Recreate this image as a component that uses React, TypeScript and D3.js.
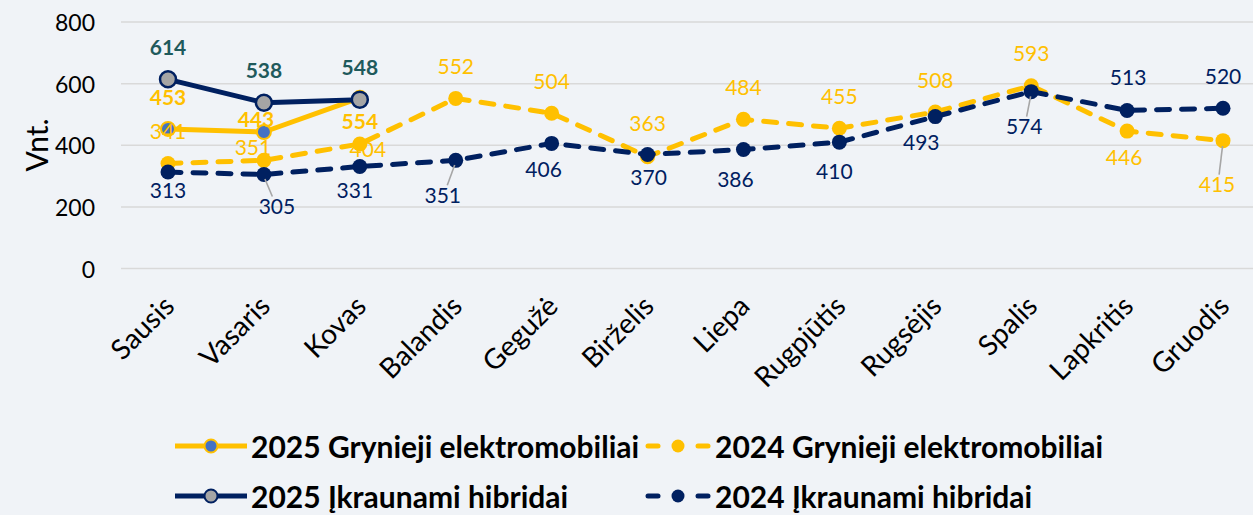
import React from "react";
import * as d3 from "d3";

const months = ["Sausis", "Vasaris", "Kovas", "Balandis", "Gegužė", "Birželis", "Liepa", "Rugpjūtis", "Rugsėjis", "Spalis", "Lapkritis", "Gruodis"];
const yTicks = [0, 200, 400, 600, 800];

const ev2025 = [453, 443, 554];
const phev2025 = [614, 538, 548];
const ev2024 = [341, 351, 404, 552, 504, 363, 484, 455, 508, 593, 446, 415];
const phev2024 = [313, 305, 331, 351, 406, 370, 386, 410, 493, 574, 513, 520];

const seriesNames = ["2025 Grynieji elektromobiliai", "2024 Grynieji elektromobiliai", "2025 Įkraunami hibridai", "2024 Įkraunami hibridai"];

// label placement offsets (dx, dy) relative to the point, and optional leader line flag
const ev2025Off: [number, number][] = [[0, -32], [-8, -14], [0, 23]];
const phev2025Off: [number, number][] = [[0, -33], [0, -33], [0, -33]];
const ev2024Off: [number, number, number?][] = [[0, -33], [-11, -14], [8, 4], [0, -33], [0, -33], [0, -34], [0, -33], [0, -33], [0, -32], [0, -33], [-3, 25], [-6, 43, 1]];
const phev2024Off: [number, number, number?][] = [[0, 17], [13, 31, 1], [-5, 23], [-13, 34, 1], [-8, 25], [1, 22], [-8, 29], [-5, 28], [-14, 25], [-7, 34, 1], [1, -34], [0, -33]];

const W = 1253, H = 515;
const YELLOW = "#FFC000";
const NAVY = "#002060";
const TEAL = "#1F5A5C";
const GREY = "#A5A5A5";
const BLUE = "#4472C4";
const FONT = "Lato, 'Open Sans', sans-serif";

export default function App() {
  const x = d3.scalePoint<string>().domain(months).range([168, 1223]);
  const y = d3.scaleLinear().domain([0, 800]).range([268.5, 22]);
  const line = d3.line<number>().x((_, i) => x(months[i])!).y((d) => y(d));

  const labels = (vals: number[], offs: any[], color: string, bold: boolean, key: string) =>
    vals.map((v, i) => {
      const px = x(months[i])!;
      const py = y(v);
      const [dx, dy, lead] = offs[i];
      const lx = px + dx, ly = py + dy;
      return (
        <g key={key + i}>
          {lead ? (
            <line
              x1={px + (lx - px) * 0.08}
              y1={py + (ly - py) * 0.08 + 2}
              x2={lx + (px - lx) * 0.35}
              y2={ly - Math.sign(dy) * 9}
              stroke="#A6A6A6"
              strokeWidth={1.6}
            />
          ) : null}
          <text x={lx} y={ly} fill={color} fontSize={21} fontWeight={bold ? 700 : 400} textAnchor="middle" dominantBaseline="central" fontFamily={FONT}>
            {v}
          </text>
        </g>
      );
    });

  return (
    <svg width={W} height={H} style={{ position: "absolute", left: 0, top: 0, display: "block" }} fontFamily={FONT}>
      <rect x={0} y={0} width={W} height={H} fill="#F0F3F7" />
      {yTicks.map((t) => (
        <g key={t}>
          <line x1={121} x2={W} y1={y(t)} y2={y(t)} stroke="#D9D9D9" strokeWidth={1.5} />
          <text x={95} y={y(t)} textAnchor="end" dominantBaseline="central" fontSize={23} fill="#000">
            {t}
          </text>
        </g>
      ))}
      <text transform={`translate(36,145) rotate(-90)`} textAnchor="middle" dominantBaseline="central" fontSize={30} fill="#000">
        Vnt.
      </text>
      {months.map((m) => (
        <text key={m} transform={`translate(${x(m)! + 8},308) rotate(-45)`} textAnchor="end" fontSize={28} fill="#000">
          {m}
        </text>
      ))}

      {/* 2024 EV dashed */}
      <path d={line(ev2024)!} fill="none" stroke={YELLOW} strokeWidth={5} strokeDasharray="13 12" strokeLinecap="round" strokeLinejoin="round" />
      {ev2024.map((v, i) => (
        <circle key={"e4" + i} cx={x(months[i])} cy={y(v)} r={7.5} fill={YELLOW} />
      ))}
      {/* 2024 PHEV dashed */}
      <path d={line(phev2024)!} fill="none" stroke={NAVY} strokeWidth={5} strokeDasharray="13 12" strokeLinecap="round" strokeLinejoin="round" />
      {phev2024.map((v, i) => (
        <circle key={"p4" + i} cx={x(months[i])} cy={y(v)} r={7.5} fill={NAVY} />
      ))}
      {/* 2025 EV solid */}
      <path d={line(ev2025)!} fill="none" stroke={YELLOW} strokeWidth={5} strokeLinejoin="round" />
      {ev2025.map((v, i) => (
        <circle key={"e5" + i} cx={x(months[i])} cy={y(v)} r={7} fill={BLUE} stroke={YELLOW} strokeWidth={2} />
      ))}
      {/* 2025 PHEV solid */}
      <path d={line(phev2025)!} fill="none" stroke={NAVY} strokeWidth={5} strokeLinejoin="round" />
      {phev2025.map((v, i) => (
        <circle key={"p5" + i} cx={x(months[i])} cy={y(v)} r={8} fill={GREY} stroke={NAVY} strokeWidth={2.5} />
      ))}

      {labels(ev2024, ev2024Off, YELLOW, false, "le4")}
      {labels(phev2024, phev2024Off, NAVY, false, "lp4")}
      {labels(ev2025, ev2025Off, YELLOW, true, "le5")}
      {labels(phev2025, phev2025Off, TEAL, true, "lp5")}

      {/* legend */}
      {[
        { name: seriesNames[0], col: 0, row: 0, color: YELLOW, fill: BLUE, stroke: YELLOW, dashed: false },
        { name: seriesNames[1], col: 1, row: 0, color: YELLOW, fill: YELLOW, stroke: YELLOW, dashed: true },
        { name: seriesNames[2], col: 0, row: 1, color: NAVY, fill: GREY, stroke: NAVY, dashed: false },
        { name: seriesNames[3], col: 1, row: 1, color: NAVY, fill: NAVY, stroke: NAVY, dashed: true },
      ].map((it) => {
        const x0 = it.col === 0 ? 175 : 645;
        const x1 = it.col === 0 ? 247 : 711;
        const cx = (x0 + x1) / 2;
        const cy = it.row === 0 ? 446 : 496;
        return (
          <g key={it.name}>
            {it.dashed ? (
              <>
                <line x1={x0 + 3} x2={x0 + 13} y1={cy} y2={cy} stroke={it.color} strokeWidth={5} strokeLinecap="round" />
                <line x1={x1 - 13} x2={x1 - 3} y1={cy} y2={cy} stroke={it.color} strokeWidth={5} strokeLinecap="round" />
              </>
            ) : (
              <line x1={x0} x2={x1} y1={cy} y2={cy} stroke={it.color} strokeWidth={5} />
            )}
            <circle cx={cx} cy={cy} r={6.5} fill={it.fill} stroke={it.stroke} strokeWidth={it.dashed ? 0 : 2} />
            <text x={x1 + 4} y={cy} dominantBaseline="central" fontSize={30} fontWeight={700} fill="#000">
              {it.name}
            </text>
          </g>
        );
      })}
    </svg>
  );
}
